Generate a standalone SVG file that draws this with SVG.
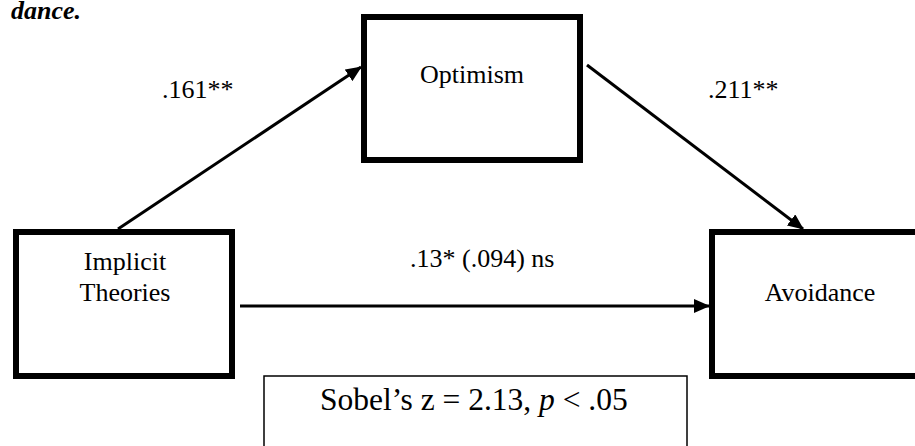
<svg xmlns="http://www.w3.org/2000/svg" width="915" height="446" viewBox="0 0 915 446">
<style>
text{font-family:"Liberation Serif","Times New Roman",serif;fill:#000;font-size:26px}
text.title{font-size:26px;font-style:italic;font-weight:bold}
text.big{font-size:31.5px}
.node rect{fill:#fff;stroke:#000;stroke-width:6}
.conn line{stroke:#000;stroke-width:3}
.c{text-anchor:middle}
</style>
<defs>
<marker id="ah" markerUnits="userSpaceOnUse" markerWidth="16" markerHeight="14" refX="15" refY="7" orient="auto">
<path d="M0,0 L16,7 L0,14 z" fill="#000"/>
</marker>
</defs>
<rect width="915" height="446" fill="#fff"/>
<text class="title" x="81" y="19" text-anchor="end">dance.</text>
<g class="conn">
<line x1="118" y1="229" x2="361" y2="67" marker-end="url(#ah)"/>
<line x1="587" y1="65" x2="803" y2="229" marker-end="url(#ah)"/>
<line x1="240" y1="306" x2="709" y2="306" marker-end="url(#ah)"/>
</g>
<g id="implicit" class="node"><rect x="16" y="232" width="216" height="144"/><text class="c" x="125" y="270">Implicit</text><text class="c" x="125" y="301">Theories</text></g>
<g id="optimism" class="node"><rect x="364" y="17" width="216" height="143"/><text class="c" x="472" y="83">Optimism</text></g>
<g id="avoidance" class="node"><rect x="712" y="232" width="220" height="144"/><text class="c" x="820" y="301">Avoidance</text></g>
<text x="162" y="98">.161**</text>
<text x="708" y="98">.211**</text>
<text x="410" y="267">.13* (.094) ns</text>
<g id="sobel"><rect x="264" y="376" width="423" height="100" fill="#fff" stroke="#000" stroke-width="1.5"/><text class="big" x="320" y="410">Sobel’s z = 2.13, <tspan font-style="italic">p</tspan> &lt; .05</text></g>
</svg>
